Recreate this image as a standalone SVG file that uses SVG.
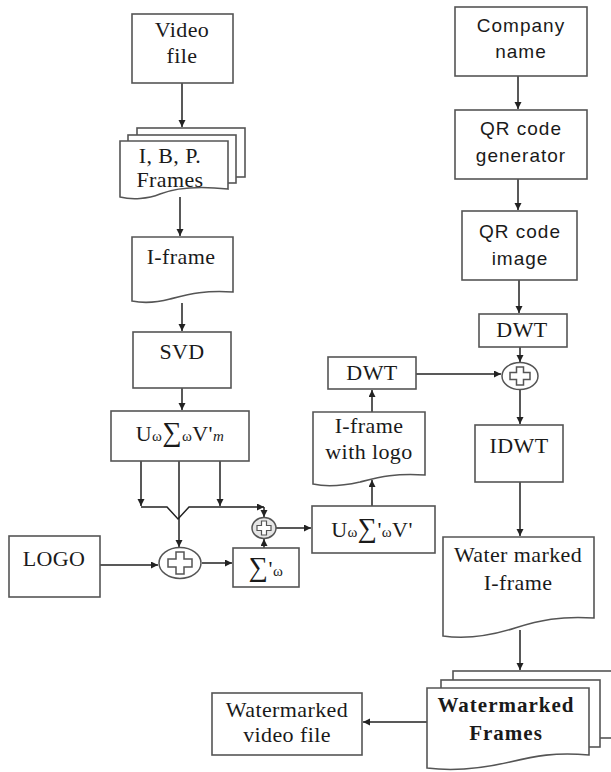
<svg xmlns="http://www.w3.org/2000/svg" width="611" height="772" viewBox="0 0 611 772">
<style>
.box{fill:#fff;stroke:#555;stroke-width:1.6}
.ln{fill:none;stroke:#222;stroke-width:1.5}
.arr{marker-end:url(#ah)}
.t{font-family:"Liberation Serif","DejaVu Serif",serif;font-size:22px;letter-spacing:0.4px;fill:#1a1a1a;text-anchor:middle}
.s{font-family:"Liberation Sans","DejaVu Sans",sans-serif;font-size:19px;letter-spacing:1px;fill:#1a1a1a;text-anchor:middle}
.b{font-weight:bold;letter-spacing:1px;font-size:21px}
.sub{font-size:15px}
.sig{font-size:27px}
.plus{fill:#fff;stroke:#555;stroke-width:1.5}
</style>
<defs>
<marker id="ah" markerUnits="userSpaceOnUse" markerWidth="8" markerHeight="8" refX="7" refY="3.5" orient="auto">
<path d="M0,0 L7,3.5 L0,7 z" fill="#222"/>
</marker>
</defs>

<g id="connectors">
<path class="ln arr" d="M182,83 V127"/>
<path class="ln arr" d="M180,197 V236"/>
<path class="ln arr" d="M182,303 V331"/>
<path class="ln arr" d="M182,388 V410"/>
<path class="ln arr" d="M141,461 V506"/>
<path class="ln arr" d="M220,461 V506"/>
<path class="ln arr" d="M141,507 H167 L178,519 L189,507 H264"/>
<path class="ln arr" d="M264,507 V517"/>
<path class="ln arr" d="M179,461 V547"/>
<path class="ln arr" d="M100,565 H158"/>
<path class="ln arr" d="M202,563 H232"/>
<path class="ln arr" d="M264,548 V539"/>
<path class="ln arr" d="M276,528 H311"/>
<path class="ln arr" d="M372,506 V480"/>
<path class="ln arr" d="M372,412 V390"/>
<path class="ln arr" d="M416,374 H501"/>
<path class="ln arr" d="M518,76 V109"/>
<path class="ln arr" d="M518,179 V210"/>
<path class="ln arr" d="M519,280 V313"/>
<path class="ln arr" d="M520,347 V362"/>
<path class="ln arr" d="M520,390 V424"/>
<path class="ln arr" d="M520,482 V536"/>
<path class="ln arr" d="M520,630 V670"/>
<path class="ln arr" d="M427,722 H363"/>
</g>

<g id="video-file">
<rect class="box" x="132" y="14" width="101" height="69"/>
<text class="t" x="182" y="37">Video</text>
<text class="t" x="182" y="63">file</text>
</g>

<g id="ibp-frames">
<rect class="box" x="137" y="128" width="108" height="49"/>
<rect class="box" x="128" y="135" width="108" height="48"/>
<path class="box" d="M120,141 H228 V189 C200,186 175,188 160,194 C148,199 132,200 120,197 Z"/>
<text class="t" x="170" y="163" font-size="21">I, B, P.</text>
<text class="t" x="170" y="187" font-size="21">Frames</text>
</g>

<g id="i-frame">
<path class="box" d="M132,237 H233 V292 C205,290 190,294 170,299 C155,303 142,303 132,301 Z"/>
<text class="t" x="181" y="264">I-frame</text>
</g>

<g id="svd">
<rect class="box" x="133" y="332" width="98" height="56"/>
<text class="t" x="182" y="359">SVD</text>
</g>

<g id="usv">
<rect class="box" x="111" y="411" width="138" height="50"/>
<text class="t" x="180" y="441">U<tspan class="sub">ω</tspan><tspan class="sig">∑</tspan><tspan class="sub">ω</tspan>V'<tspan class="sub" font-style="italic">m</tspan></text>
</g>

<g id="logo">
<rect class="box" x="9" y="536" width="91" height="61"/>
<text class="t" x="54" y="566" letter-spacing="1.5">LOGO</text>
</g>

<g id="plus-big">
<ellipse class="plus" cx="180" cy="563" rx="21" ry="15.5"/>
<path class="plus" d="M176,552 H184 V559 H192 V567 H184 V574 H176 V567 H168 V559 H176 Z"/>
</g>

<g id="sigma-prime">
<rect class="box" x="233" y="548" width="66" height="39"/>
<text class="t" x="266" y="576"><tspan class="sig">∑</tspan>'<tspan class="sub">ω</tspan></text>
</g>

<g id="plus-small">
<ellipse cx="264" cy="528" rx="12" ry="10.5" fill="#e6e6e6" stroke="#555" stroke-width="1.5"/>
<path d="M261.5,521 H266.5 V525.5 H271 V530.5 H266.5 V535 H261.5 V530.5 H257 V525.5 H261.5 Z" fill="#fff" stroke="#555" stroke-width="1.2"/>
</g>

<g id="usv-prime">
<rect class="box" x="312" y="506" width="123" height="47"/>
<text class="t" x="372" y="537">U<tspan class="sub">ω</tspan><tspan class="sig">∑</tspan>'<tspan class="sub">ω</tspan>V'</text>
</g>

<g id="i-frame-logo">
<path class="box" d="M313,412 H425 V475 C395,473 380,477 360,482 C342,486 326,487 313,484 Z"/>
<text class="t" x="369" y="433">I-frame</text>
<text class="t" x="369" y="459">with logo</text>
</g>

<g id="dwt-left">
<rect class="box" x="328" y="357" width="88" height="32"/>
<text class="t" x="372" y="380" letter-spacing="1">DWT</text>
</g>

<g id="company-name">
<rect class="box" x="455" y="7" width="132" height="69"/>
<text class="s" x="521" y="32">Company</text>
<text class="s" x="521" y="58">name</text>
</g>

<g id="qr-generator">
<rect class="box" x="455" y="110" width="132" height="69"/>
<text class="s" x="521" y="135">QR code</text>
<text class="s" x="521" y="162">generator</text>
</g>

<g id="qr-image">
<rect class="box" x="462" y="211" width="115" height="69"/>
<text class="s" x="520" y="238">QR code</text>
<text class="s" x="520" y="265">image</text>
</g>

<g id="dwt-right">
<rect class="box" x="479" y="314" width="88" height="33"/>
<text class="t" x="522" y="337" letter-spacing="1">DWT</text>
</g>

<g id="plus-right">
<ellipse class="plus" cx="520" cy="376" rx="18" ry="13.5"/>
<path class="plus" d="M516.5,367 H523.5 V372.5 H530 V379.5 H523.5 V385 H516.5 V379.5 H510 V372.5 H516.5 Z"/>
</g>

<g id="idwt">
<rect class="box" x="475" y="425" width="88" height="57"/>
<text class="t" x="519" y="453" letter-spacing="1">IDWT</text>
</g>

<g id="watermarked-iframe">
<path class="box" d="M443,537 H594 V618 C560,616 540,620 515,628 C490,636 465,639 443,636 Z"/>
<text class="t" x="518" y="562">Water marked</text>
<text class="t" x="518" y="590">I-frame</text>
</g>

<g id="watermarked-frames">
<rect class="box" x="453" y="671" width="170" height="67"/>
<rect class="box" x="441" y="680" width="159" height="67"/>
<path class="box" d="M427,688 H589 V755 C555,752 535,756 510,762 C480,769 450,771 427,768 Z"/>
<text class="t b" x="506" y="712">Watermarked</text>
<text class="t b" x="506" y="740">Frames</text>
</g>

<g id="watermarked-video">
<rect class="box" x="212" y="693" width="150" height="62"/>
<text class="t" x="287" y="717">Watermarked</text>
<text class="t" x="287" y="742">video file</text>
</g>
</svg>
